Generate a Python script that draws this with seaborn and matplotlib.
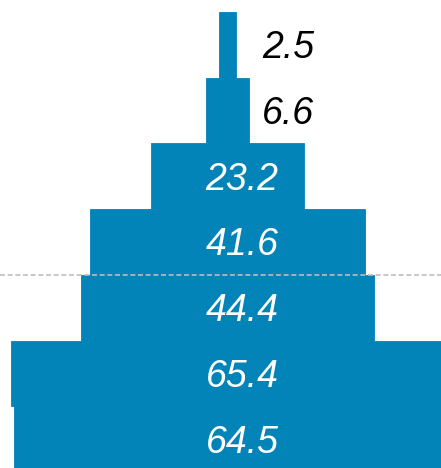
import matplotlib
matplotlib.use("Agg")
import matplotlib.pyplot as plt
import seaborn as sns
import pandas as pd

# Tiers from top (narrowest) to bottom (widest)
tiers = ["Tier 1", "Tier 2", "Tier 3", "Tier 4", "Tier 5", "Tier 6", "Tier 7"]
values = [2.5, 6.6, 23.2, 41.6, 44.4, 65.4, 64.5]
value_labels = ["2.5", "6.6", "23.2", "41.6", "44.4", "65.4", "64.5"]

BAR_COLOR = "#0284B8"
OUTSIDE_THRESHOLD = 10

df = pd.DataFrame({"tier": tiers, "value": values})
df["left"] = -df["value"] / 2
df["right"] = df["value"] / 2

sns.set_theme(style="white")
plt.rcParams["font.family"] = ["Liberation Sans", "DejaVu Sans"]

fig = plt.figure(figsize=(4.41, 4.68), dpi=100)
ax = fig.add_axes([0, 0, 1, 1])

# Each bar is centred on zero: draw its left and right halves
for col in ("left", "right"):
    sns.barplot(data=df, x=col, y="tier", order=tiers, orient="h",
                color=BAR_COLOR, saturation=1, width=1.0,
                edgecolor=BAR_COLOR, linewidth=0.6, ax=ax)

ax.set_xlim(-34.37, 32.25)
ax.set_ylim(6.44, -0.683)

# Reference line between the fourth and fifth tiers
ax.axhline(3.5, color="#bdbdbd", linestyle=(0, (3, 1.6)), linewidth=1.2, zorder=5)

for i, (v, lab) in enumerate(zip(values, value_labels)):
    outside = v < OUTSIDE_THRESHOLD
    ax.annotate(lab, (9.2 if outside else 2.2, i), xytext=(0, -2.5),
                textcoords="offset points", ha="center", va="center",
                color="black" if outside else "white",
                fontsize=27, fontstyle="italic", zorder=6)

ax.set_axis_off()
fig.savefig("out.png", dpi=100)
